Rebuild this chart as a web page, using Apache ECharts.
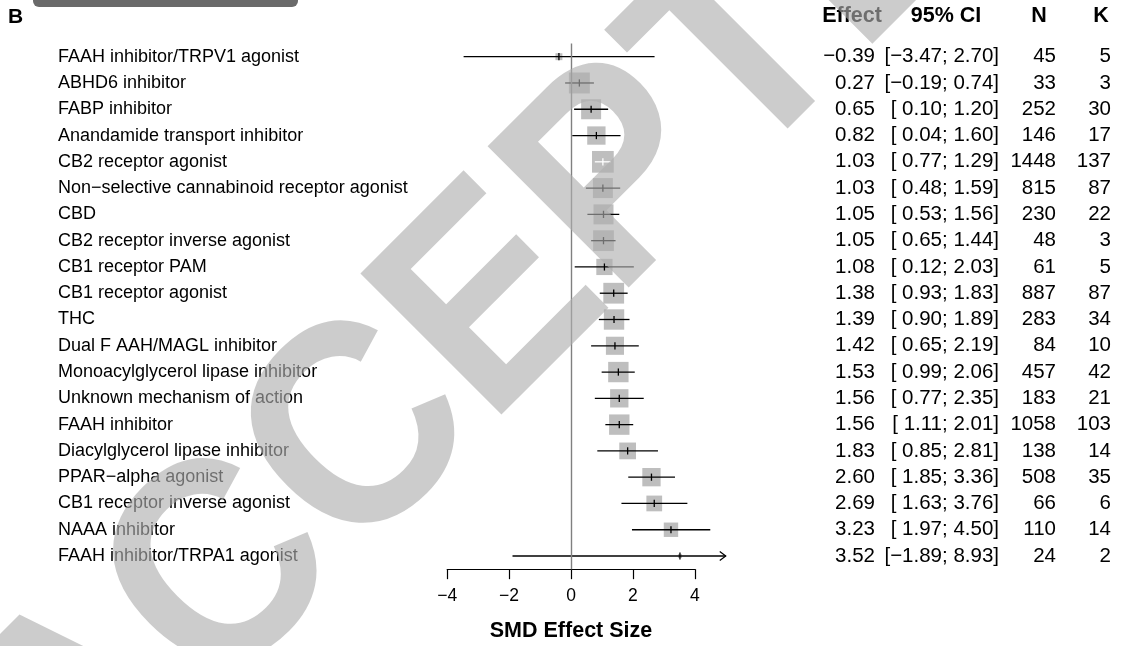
<!DOCTYPE html>
<html>
<head>
<meta charset="utf-8">
<script src="https://cdn.jsdelivr.net/npm/echarts@6/dist/echarts.min.js"></script>
<style>
  html, body { margin: 0; padding: 0; background: #fff; }
  #chart { width: 1131px; height: 646px; }
</style>
</head>
<body>
<div id="chart"></div>
<script>
// ---- data ----
const labels = [
  'FAAH inhibitor/TRPV1 agonist',
  'ABHD6 inhibitor',
  'FABP inhibitor',
  'Anandamide transport inhibitor',
  'CB2 receptor agonist',
  'Non\u2212selective cannabinoid receptor agonist',
  'CBD',
  'CB2 receptor inverse agonist',
  'CB1 receptor PAM',
  'CB1 receptor agonist',
  'THC',
  'Dual F AAH/MAGL inhibitor',
  'Monoacylglycerol lipase inhibitor',
  'Unknown mechanism of action',
  'FAAH inhibitor',
  'Diacylglycerol lipase inhibitor',
  'PPAR\u2212alpha agonist',
  'CB1 receptor inverse agonist',
  'NAAA inhibitor',
  'FAAH inhibitor/TRPA1 agonist'
];
const effects = [-0.39, 0.27, 0.65, 0.82, 1.03, 1.03, 1.05, 1.05, 1.08, 1.38, 1.39, 1.42, 1.53, 1.56, 1.56, 1.83, 2.60, 2.69, 3.23, 3.52];
const ciLower = [-3.47, -0.19, 0.10, 0.04, 0.77, 0.48, 0.53, 0.65, 0.12, 0.93, 0.90, 0.65, 0.99, 0.77, 1.11, 0.85, 1.85, 1.63, 1.97, -1.89];
const ciUpper = [2.70, 0.74, 1.20, 1.60, 1.29, 1.59, 1.56, 1.44, 2.03, 1.83, 1.89, 2.19, 2.06, 2.35, 2.01, 2.81, 3.36, 3.76, 4.50, 8.93];
const nValues = [45, 33, 252, 146, 1448, 815, 230, 48, 61, 887, 283, 84, 457, 183, 1058, 138, 508, 66, 110, 24];
const kValues = [5, 3, 30, 17, 137, 87, 22, 3, 5, 87, 34, 10, 42, 21, 103, 14, 35, 6, 14, 2];
const weights = [0.6, 5.5, 5.0, 4.2, 5.9, 5.0, 5.0, 5.4, 3.3, 5.4, 5.2, 4.1, 5.2, 4.2, 5.2, 3.5, 4.2, 3.1, 2.6, 0.2];
const xTicks = [-4, -2, 0, 2, 4];
const headers = ['Effect', '95% CI', 'N', 'K'];

// ---- helpers ----
const FONT = '"Liberation Sans", Arial, Helvetica, sans-serif';
const minus = s => String(s).replace(/-/g, '\u2212');
const fmt2 = v => minus(v.toFixed(2));
const ciText = labels.map((_, i) => {
  const lo = ciLower[i], hi = ciUpper[i];
  const loS = lo < 0 ? fmt2(lo) : ' ' + lo.toFixed(2);
  const hiS = hi < 0 ? fmt2(hi) : hi.toFixed(2);
  return '[' + loS + '; ' + hiS + ']';
});
const effText = effects.map(fmt2);

const X_MIN = -4, X_MAX = 5;
const PX = 30.95;            // pixels per unit
const ZERO_X = 571;
const GRID_LEFT = ZERO_X + X_MIN * PX;
const GRID_RIGHT = GRID_LEFT + (X_MAX - X_MIN) * PX;
const GRID_TOP = 43.56;
const GRID_H = 525.6;

const chart = echarts.init(document.getElementById('chart'), null, { renderer: 'canvas' });

function renderItem(params, api) {
  const est = api.value(0), idx = api.value(1), lo = api.value(2), hi = api.value(3), w = api.value(4);
  const c = api.coord([est, idx]);
  const y = c[1];
  const xLo = api.coord([Math.max(lo, X_MIN), idx])[0];
  const xHi = api.coord([Math.min(hi, X_MAX), idx])[0];
  const side = 8.94 * Math.sqrt(w);
  const inside = (xLo >= c[0] - side / 2) && (xHi <= c[0] + side / 2);
  const lineCol = inside ? '#ffffff' : '#000000';
  const children = [
    { type: 'rect', shape: { x: c[0] - side / 2, y: y - side / 2, width: side, height: side },
      style: { fill: '#bebebe' } },
    { type: 'line', shape: { x1: xLo, y1: y, x2: xHi, y2: y },
      style: { stroke: lineCol, lineWidth: 1.3 } },
    { type: 'line', shape: { x1: c[0], y1: y - 3.6, x2: c[0], y2: y + 3.6 },
      style: { stroke: lineCol, lineWidth: 1.3 } }
  ];
  if (hi > X_MAX) {
    children.push({ type: 'polyline', shape: { points: [[xHi - 6, y - 4.5], [xHi, y], [xHi - 6, y + 4.5]] },
      style: { stroke: '#000', fill: null, lineWidth: 1.2 } });
  }
  if (lo < X_MIN) {
    children.push({ type: 'polyline', shape: { points: [[xLo + 6, y - 4.5], [xLo, y], [xLo + 6, y + 4.5]] },
      style: { stroke: '#000', fill: null, lineWidth: 1.2 } });
  }
  return { type: 'group', children };
}

const tableAxis = (data, rightEdge, fs) => ({
  type: 'category', gridIndex: 0, position: 'right', inverse: true, data,
  axisLine: { show: false }, axisTick: { show: false }, splitLine: { show: false },
  axisLabel: { interval: 0, align: 'right', margin: rightEdge - GRID_RIGHT, fontSize: fs, color: '#000', fontFamily: FONT }
});

const headerX = [852, 946, 1039, 1101];

const option = {
  animation: false,
  backgroundColor: '#ffffff',
  grid: [
    { left: GRID_LEFT, top: GRID_TOP, width: (X_MAX - X_MIN) * PX, height: GRID_H,
      containLabel: false, outerBoundsMode: 'none' },
    { left: GRID_LEFT, top: GRID_TOP, width: (4 - X_MIN) * PX, height: GRID_H,
      containLabel: false, outerBoundsMode: 'none' }
  ],
  xAxis: [
    { type: 'value', gridIndex: 0, min: X_MIN, max: X_MAX, show: false },
    { type: 'value', gridIndex: 1, min: -4, max: 4, interval: 2,
      axisLine: { show: true, onZero: false, lineStyle: { color: '#000', width: 1.2 } },
      axisTick: { show: true, length: 10, lineStyle: { color: '#000', width: 1.2 } },
      splitLine: { show: false },
      axisLabel: { margin: 18, fontSize: 17.5, color: '#000', fontFamily: FONT,
        formatter: v => xTicks.indexOf(v) >= 0 ? minus(v) : '' },
      name: 'SMD Effect Size', nameLocation: 'middle', nameGap: 51,
      nameTextStyle: { fontSize: 21.5, fontWeight: 'bold', color: '#000', fontFamily: FONT } }
  ],
  yAxis: [
    { type: 'category', gridIndex: 0, inverse: true, data: labels,
      axisLine: { show: false }, axisTick: { show: false }, splitLine: { show: false },
      axisLabel: { interval: 0, align: 'left', margin: GRID_LEFT - 58, fontSize: 18, color: '#000', fontFamily: FONT } },
    tableAxis(effText, 875, 20.5),
    tableAxis(ciText, 999, 20.5),
    tableAxis(nValues.map(String), 1056, 20.5),
    tableAxis(kValues.map(String), 1111, 20.5),
    { type: 'value', gridIndex: 1, show: false, min: 0, max: 1 }
  ],
  series: [
    {
      type: 'custom', xAxisIndex: 0, yAxisIndex: 0, clip: false, z: 3,
      renderItem,
      encode: { x: [0, 2, 3], y: 1 },
      data: labels.map((_, i) => [effects[i], i, ciLower[i], ciUpper[i], weights[i]]),
      markLine: {
        silent: true, symbol: 'none', label: { show: false },
        lineStyle: { color: '#808080', width: 1.4, type: 'solid' },
        data: [{ xAxis: 0 }]
      }
    }
  ],
  graphic: [
    { type: 'rect', shape: { x: 33, y: -20, width: 265, height: 27, r: 6 }, style: { fill: '#6a6a6a' }, z: 5 },
    { type: 'text', x: 8, y: 17, style: { text: 'B', font: 'bold 21px ' + FONT, fill: '#000', align: 'left', verticalAlign: 'middle' } },
    ...headers.map((h, i) => ({
      type: 'text', x: headerX[i], y: 16,
      style: { text: h, font: 'bold 21.5px ' + FONT, fill: '#000', align: 'center', verticalAlign: 'middle' }
    })),
    { type: 'text', x: 19, y: 784, rotation: Math.PI / 4, scaleX: 0.93, z: 100, silent: true,
      style: { text: 'ACCEPTED', font: 'bold 290px ' + FONT, fill: 'rgba(175,175,175,0.63)', align: 'left', verticalAlign: 'middle' } }
  ]
};

chart.setOption(option);
</script>
</body>
</html>
